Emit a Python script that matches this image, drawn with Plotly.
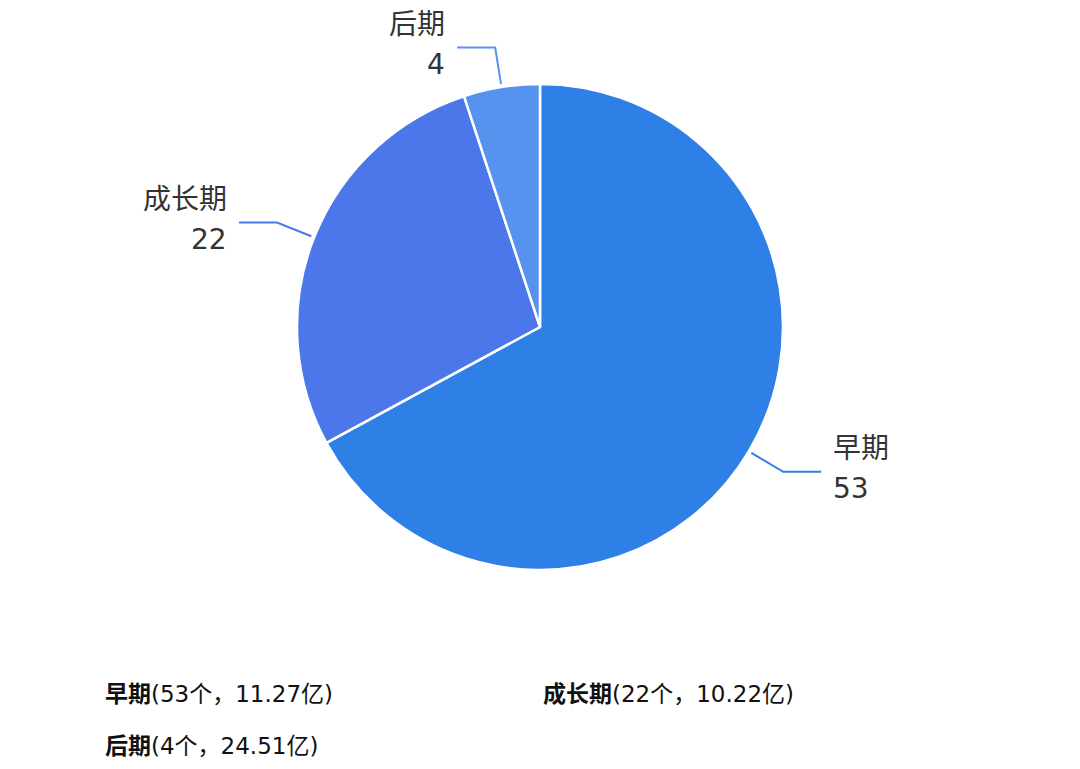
import math
import plotly.graph_objects as go

# data
stages = ['早期', '成长期', '后期']
counts = [53, 22, 4]
amounts = [11.27, 10.22, 24.51]   # 亿
colors = ['#2E7FE6', '#4C77EA', '#5593EE']

# the page body has an 8px margin, so the figure is drawn a bit smaller
PAD = 8
W, H = 1080 - 2 * PAD, 769 - 2 * PAD
FONT = 'DejaVu Sans, Noto Sans CJK SC, sans-serif'

# pie placement in window pixels (centre + radius)
cx, cy, r = 540, 327, 243


def px_to_paper(x, y):
    return (x - PAD) / W, 1 - (y - PAD) / H


fig = go.Figure()
dx0, dy1 = px_to_paper(cx - r, cy - r)
dx1, dy0 = px_to_paper(cx + r, cy + r)
fig.add_trace(go.Pie(
    labels=stages, values=counts,
    sort=False, direction='clockwise', rotation=0,
    marker=dict(colors=colors, line=dict(color='white', width=2.5)),
    textinfo='none', hoverinfo='label+value+percent',
    domain=dict(x=[dx0, dx1], y=[dy0, dy1]),
    showlegend=False,
))

# outside labels with leader lines, placed at each slice's mid angle
total = sum(counts)
start = 0
for name, val, col in zip(stages, counts, colors):
    mid = (start + val / 2) / total * 2 * math.pi
    start += val
    sx, sy = math.sin(mid), -math.cos(mid)
    x0, y0 = cx + (r + 3) * sx, cy + (r + 3) * sy
    x1, y1 = cx + (r + 40) * sx, cy + (r + 40) * sy
    side = 1 if sx >= 0 else -1
    x2 = x1 + side * 38
    pts = [px_to_paper(x0, y0), px_to_paper(x1, y1), px_to_paper(x2, y1)]
    path = 'M {} {} L {} {} L {} {}'.format(*[c for p in pts for c in p])
    fig.add_shape(type='path', path=path, xref='paper', yref='paper',
                  line=dict(color=col, width=2))
    tx = x2 + side * 10
    anchor = 'left' if side > 0 else 'right'
    for txt, dy in [(name, -23), (str(val), 17)]:
        ax, ay = px_to_paper(tx, y1 + dy)
        fig.add_annotation(x=ax, y=ay, xref='paper', yref='paper',
                           text=txt, showarrow=False, xanchor=anchor,
                           yanchor='middle',
                           font=dict(size=28, color='#333333', family=FONT))

# legend text at the bottom
legend_pos = [(103, 694), (541, 694), (103, 746)]
for name, val, amt, (lx, ly) in zip(stages, counts, amounts, legend_pos):
    ax, ay = px_to_paper(lx, ly)
    fig.add_annotation(x=ax, y=ay, xref='paper', yref='paper',
                       text='<b>{}</b>({}个，{:.2f}亿)'.format(name, val, amt),
                       showarrow=False, xanchor='left', yanchor='middle',
                       font=dict(size=23, color='#111111', family=FONT))

fig.update_layout(
    width=W, height=H,
    margin=dict(l=0, r=0, t=0, b=0),
    paper_bgcolor='white', plot_bgcolor='white',
    font=dict(family=FONT),
)

fig.write_html('out.html')
